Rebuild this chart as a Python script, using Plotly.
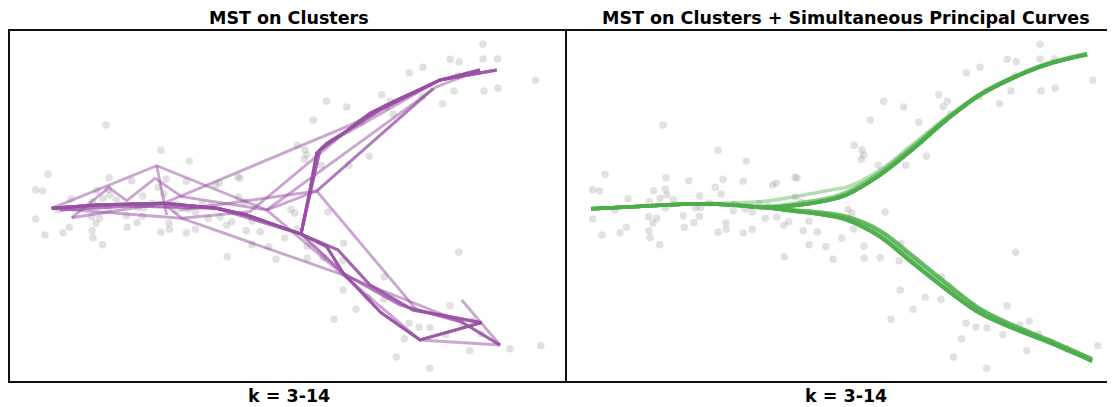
import plotly.graph_objects as go

# ---------------- data (units: arbitrary, panel spans x 0..557, y 0..350) ----------------
POINT_X = [151, 179.3, 38, 99, 121.7, 156, 176.3, 228, 230, 205.7, 209.3, 25.7, 32.7, 86.7, 98.3,
           148.3, 154, 100, 132.7, 61, 93, 106.3, 82.3, 228.3, 234.3, 192.3, 200.3, 142.3, 167.3,
           98.3, 128.3, 133.7, 47.7, 166.3, 178, 185.3, 25.7, 81.7, 89.7, 116.3, 132.3, 198.3, 210,
           242, 86, 127, 159, 221.7, 216.7, 59.3, 117.3, 159.3, 185.3, 82, 35, 53, 151, 176.3,
           236.3, 250.3, 83, 92.7, 242, 258.7, 274.7, 217.3, 266, 96,
           473, 440.3, 449.3, 473, 487.3, 399.3, 413, 448.3, 525.7, 444, 474, 488, 412.3, 371.7,
           380.3, 376.3, 432.7, 316.7, 336.7, 383.3, 303.3, 351.7, 287.3, 295, 296.7, 294.3, 359.3,
           311.3, 338.7, 281, 318,
           284.7, 286.7, 297, 297.3, 313.3, 332.3, 333.7, 448.7, 374.3, 333.3, 358.3, 374, 346, 324,
           440, 399, 409, 420, 452.7, 462.3, 435.7, 471.3, 394.3, 459.7, 500, 530.7, 386.3, 419.7]
POINT_Y = [230.7, 220, 206.7, 203.3, 200.3, 201.7, 199.7, 204, 202.7, 196, 198, 191.3, 190, 190.3, 191.7,
           193.7, 187, 186, 185, 182.3, 182.7, 181, 179.3, 184, 179, 177.3, 175.3, 177.7, 176.7,
           173.3, 173.3, 173.3, 171.3, 170.3, 172, 169, 162, 164.3, 162.7, 165.3, 164.7, 162.7, 164,
           160, 157.7, 158.3, 158, 159.3, 155.7, 153.7, 153.7, 151.7, 151.7, 150.3, 146, 148.3, 148.7, 148,
           150.3, 149.3, 143.3, 136.3, 136.3, 134.3, 143, 124.3, 121.7, 256,
           336.7, 321.7, 319.3, 322, 322, 308, 313.7, 305.3, 300.7, 290, 290, 292.7, 284.3, 286.3,
           279.7, 274.3, 277.3, 279.7, 274, 266.7, 260.7, 258.7, 235.7, 231, 226, 221.7, 224.7,
           215.7, 215.7, 171.5, 169,
           167.7, 152, 134.7, 122.7, 123.3, 120.3, 137.7, 128.7, 104.3, 91, 83.7, 81.7, 71.7, 61.7,
           75.3, 57.7, 53.7, 53.3, 56, 60, 46.3, 47, 42.3, 30.3, 32.3, 35.3, 24, 12.7]

# MST polylines (left panel)
TRUNK_X = [41.7, 86.7, 153.3, 206.7, 236.7, 291]
TRUNK_Y = [172.7, 176, 177.7, 172.7, 166, 147]
LOW_A_X = [291, 316.7, 333.3, 371, 410, 471.7]
LOW_A_Y = [147, 134.3, 107.7, 68.3, 41, 58.3]
LOW_B_X = [291, 328, 360, 403, 471.7]
LOW_B_Y = [147, 131, 96, 71, 58.3]
LOW_C_X = [50, 120, 206.7, 291, 333.3, 390, 451.7, 490]
LOW_C_Y = [171, 175, 172.7, 147, 107.7, 76, 59, 36]
UP_A_X = [291, 300, 306.7, 316.7, 333.3, 360, 386.7, 430, 470]
UP_A_Y = [147, 191, 227.7, 237.7, 247.7, 267.7, 281, 301, 311]
UP_B_X = [291, 310, 333.3, 370, 430, 486.7]
UP_B_Y = [147, 231, 247.7, 271, 301, 311]
ZIG_X = [61.7, 99, 116.7, 145, 171.7, 256.7, 306.7, 406.7, 471.7]
ZIG_Y = [163.3, 193.3, 180.3, 202.7, 184.3, 171, 190, 71, 58.3]
ZIG_UP_X = [306.7, 423.3]
ZIG_UP_Y = [190, 292.7]
PK_X = [41.7, 146.7, 256.7, 333.3, 410, 490, 451.7]
PK_Y = [172.7, 215.3, 171, 106, 41, 36, 81]
PK_B_X = [146.7, 156.7]
PK_B_Y = [215.3, 166]
PK_UP_X = [256.7, 426.7, 470]
PK_UP_Y = [171, 294.3, 311]
LONG_X = [61.7, 153.3, 336.7, 430, 486.7]
LONG_Y = [163.3, 177.7, 254.3, 301, 311]
LONG_LOW_X = [153.3, 171.7, 333.3, 451.7, 490]
LONG_LOW_Y = [177.7, 162.7, 106, 59, 36]
F_X = [41.7, 171.7, 240, 330, 430]
F_Y = [172.7, 162.7, 169.3, 244.3, 301]
H_X = [170, 306.7, 423.3]
H_Y = [171, 190, 292.7]

# principal curves (right panel)
GU_X = [24, 66, 99, 132, 166, 199, 232, 266, 280, 313, 346, 380, 413, 446, 480, 520]
GU_Y_A = [172.3, 174.3, 176, 177.3, 176, 173.5, 176, 182, 186.5, 206, 232, 261.5, 286, 303, 316.5, 326.5]
GU_Y_B = [172.3, 174.3, 176, 177.3, 178, 180, 185, 191.5, 194, 211, 237, 264, 287, 303.5, 317, 327]
GU_Y_C = [172.3, 174.3, 176, 177.3, 176.5, 174.5, 178, 184, 189, 208.5, 234.5, 263, 287, 304, 317.5, 327.5]
GL_X = [199, 232, 246, 280, 313, 346, 380, 413, 446, 480, 525]
GL_Y_A = [173.5, 169.3, 167.7, 161, 144.3, 117.7, 91, 67.7, 52.7, 39.3, 20]
GL_Y_B = [173.5, 170, 168.5, 163, 148, 122, 95, 71, 55, 41, 21.5]
GL_Y_C = [173.5, 170.5, 169.5, 164.5, 150.5, 125, 97.5, 72.5, 56, 42, 22]

TITLES = ["MST on Clusters", "MST on Clusters + Simultaneous Principal Curves"]
K_LABEL = "k = 3-14"

# ---------------- figure ----------------
PURPLE = "rgba(152,78,163,0.5)"
GREEN = "rgba(77,175,74,0.42)"
POINT_COLOR = "rgba(140,140,140,0.26)"

fig = go.Figure()

for xa, ya in (("x", "y"), ("x2", "y2")):
    fig.add_trace(go.Scatter(x=POINT_X, y=POINT_Y, mode="markers", xaxis=xa, yaxis=ya,
                             marker=dict(size=7.5, color=POINT_COLOR, line=dict(width=0)),
                             hoverinfo="skip", showlegend=False))


def join(*parts):
    xs, ys = [], []
    for px, py in parts:
        if xs:
            xs.append(None)
            ys.append(None)
        xs += list(px)
        ys += list(py)
    return xs, ys


T = (TRUNK_X, TRUNK_Y)
LA = (LOW_A_X, LOW_A_Y)
LB = (LOW_B_X, LOW_B_Y)
LC = (LOW_C_X, LOW_C_Y)
UA = (UP_A_X, UP_A_Y)
UB = (UP_B_X, UP_B_Y)
trees = [
    join(T, LA, UA),
    join(T, LA, UA),
    join(T, LA, UB),
    join(T, LB, UA),
    join(T, LB, UB),
    join(T, LB, UA, (H_X, H_Y)),
    join(LC, UB),
    join((ZIG_X, ZIG_Y), (ZIG_UP_X, ZIG_UP_Y)),
    join((PK_X, PK_Y), (PK_B_X, PK_B_Y), (PK_UP_X, PK_UP_Y)),
    join((LONG_X, LONG_Y), (LONG_LOW_X, LONG_LOW_Y)),
    join(T, LA, UA),
    join((F_X, F_Y), LC),
]
for xs, ys in trees:
    fig.add_trace(go.Scatter(x=xs, y=ys, mode="lines", xaxis="x", yaxis="y",
                             line=dict(color=PURPLE, width=2.9), hoverinfo="skip",
                             showlegend=False, connectgaps=False))

combos = [(GU_Y_A, GL_Y_A)] * 6 + [(GU_Y_A, GL_Y_B)] * 2 + [
    (GU_Y_C, GL_Y_A), (GU_Y_B, GL_Y_C), (GU_Y_C, GL_Y_C), (GU_Y_A, GL_Y_C)]
for uy, ly in combos:
    for gx, gy in ((GU_X, uy), (GL_X, ly)):
        fig.add_trace(go.Scatter(x=gx, y=gy, mode="lines", xaxis="x2", yaxis="y2",
                                 line=dict(color=GREEN, width=3.6, shape="spline", smoothing=1.0),
                                 hoverinfo="skip", showlegend=False))

# the page body adds an 8px margin; size the figure to end at the window edge
W, H = 1107, 399
ML, MR, MT, MB = 2, 0, 23, 26
plot_w = W - ML - MR
split = 557 / plot_w

axis_common = dict(showgrid=False, zeroline=False, showticklabels=False, ticks="",
                   showline=True, linecolor="#111", linewidth=2)
fig.update_layout(
    width=W, height=H,
    margin=dict(l=ML, r=MR, t=MT, b=MB, pad=0),
    paper_bgcolor="white", plot_bgcolor="white",
    xaxis=dict(domain=[0, split], range=[0, 557], mirror=True, **axis_common),
    yaxis=dict(domain=[0, 1], range=[0, 350], mirror=False, **axis_common),
    xaxis2=dict(domain=[split, 1], range=[0, 548], mirror=True, anchor="y2", **axis_common),
    yaxis2=dict(domain=[0, 1], range=[0, 350], mirror=False, anchor="x2", **axis_common),
    font=dict(family="DejaVu Sans", color="black"),
)

centers = [278.5 / plot_w, (557 + 278.5) / plot_w]
for c, t in zip(centers, TITLES):
    fig.add_annotation(text="<b>%s</b>" % t, x=c, y=1, xref="paper", yref="paper",
                       xanchor="center", yanchor="bottom", yshift=1, showarrow=False,
                       font=dict(size=17.5, family="DejaVu Sans", color="black"))
    fig.add_annotation(text="<b>%s</b>" % K_LABEL, x=c, y=0, xref="paper", yref="paper",
                       xanchor="center", yanchor="top", yshift=-3, showarrow=False,
                       font=dict(size=17.5, family="DejaVu Sans", color="black"))

fig.write_html("out.html")
